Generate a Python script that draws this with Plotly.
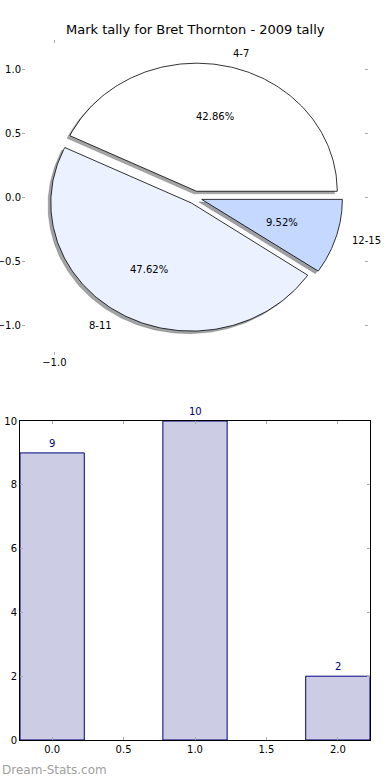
import numpy as np
import plotly.graph_objects as go

# ---- data ----
labels = ["4-7", "8-11", "12-15"]
counts = [9, 10, 2]
bar_positions = [0, 1, 2]
pie_colors = ["#ffffff", "#ebf1ff", "#c5d8ff"]
title = "Mark tally for Bret Thornton - 2009 tally"
watermark = "Dream-Stats.com"

explode = 0.05
shadow_off = -0.02
FONT = "DejaVu Sans"

fig = go.Figure()

total = float(sum(counts))
fracs = [c / total for c in counts]

wedges = []
t1 = 0.0
for lab, f, col in zip(labels, fracs, pie_colors):
    t2 = t1 + 360.0 * f
    thm = np.deg2rad((t1 + t2) / 2.0)
    cx, cy = explode * np.cos(thm), explode * np.sin(thm)
    th = np.deg2rad(np.linspace(t1, t2, 160))
    xs = np.concatenate([[cx], cx + np.cos(th), [cx]])
    ys = np.concatenate([[cy], cy + np.sin(th), [cy]])
    wedges.append((lab, f, col, thm, cx, cy, xs, ys))
    t1 = t2

def darken(hexc):
    h = hexc.lstrip("#")
    r, g, b = (int(h[i:i + 2], 16) for i in (0, 2, 4))
    return "rgba(%d,%d,%d,0.5)" % (0.3 * r, 0.3 * g, 0.3 * b)

# shadows first (beneath)
for lab, f, col, thm, cx, cy, xs, ys in wedges:
    fig.add_trace(go.Scatter(
        x=xs + shadow_off, y=ys + shadow_off, mode="lines", fill="toself",
        fillcolor=darken(col), line=dict(color=darken(col), width=0.5),
        hoverinfo="skip", showlegend=False, xaxis="x", yaxis="y"))

for lab, f, col, thm, cx, cy, xs, ys in wedges:
    fig.add_trace(go.Scatter(
        x=xs, y=ys, mode="lines", fill="toself", fillcolor=col,
        line=dict(color="black", width=0.8), name=lab,
        showlegend=False, xaxis="x", yaxis="y"))

annotations = []
for lab, f, col, thm, cx, cy, xs, ys in wedges:
    xt = cx + 1.1 * np.cos(thm)
    yt = cy + 1.1 * np.sin(thm)
    annotations.append(dict(
        x=xt, y=yt, xref="x", yref="y", text=lab, showarrow=False,
        xanchor="left" if xt > 0 else "right", yanchor="middle",
        font=dict(family=FONT, size=10, color="black")))
    xp = cx + 0.6 * np.cos(thm)
    yp = cy + 0.6 * np.sin(thm)
    annotations.append(dict(
        x=xp, y=yp, xref="x", yref="y", text="%1.2f%%" % (100 * f),
        showarrow=False, xanchor="center", yanchor="middle",
        font=dict(family=FONT, size=10, color="black")))

# bar chart
fig.add_trace(go.Bar(
    x=bar_positions, y=counts, width=0.45,
    marker=dict(color="#ccccE5", line=dict(color="#000080", width=1)),
    showlegend=False, xaxis="x2", yaxis="y2"))

for xp, v in zip(bar_positions, counts):
    annotations.append(dict(
        x=xp, y=v, xref="x2", yref="y2", text=str(v), showarrow=False,
        xanchor="center", yanchor="bottom", yshift=2,
        font=dict(family=FONT, size=10, color="#000080")))

annotations.append(dict(
    x=0.5, y=(780 - 30) / 780, xref="paper", yref="paper", text=title,
    showarrow=False, xanchor="center", yanchor="middle",
    font=dict(family=FONT, size=13, color="black")))
annotations.append(dict(
    x=0, y=(780 - 770) / 780, xref="paper", yref="paper", text=watermark,
    showarrow=False, xanchor="left", yanchor="middle",
    font=dict(family=FONT, size=12, color="#a0a0a0")))

tickfont = dict(family=FONT, size=10, color="black")
R = 1.23

fig.update_layout(
    width=390, height=780, margin=dict(l=0, r=0, t=0, b=0, autoexpand=False),
    paper_bgcolor="white", plot_bgcolor="rgba(0,0,0,0)",
    annotations=annotations,
    xaxis=dict(domain=[22 / 390, 368 / 390], range=[-R, R], anchor="y",
               automargin=False,
               showgrid=False, zeroline=False, showline=False,
               tickvals=[-1.0], tickformat=".1f", ticks="inside",
               ticklen=3, tickcolor="#aaaaaa", mirror="ticks",
               tickfont=tickfont),
    yaxis=dict(domain=[(780 - 355) / 780, (780 - 40) / 780], range=[-R, R],
               anchor="x", automargin=False,
               showgrid=False, zeroline=False, showline=False,
               tickvals=[-1.0, -0.5, 0.0, 0.5, 1.0], tickformat=".1f",
               ticks="inside", ticklen=3, tickcolor="#aaaaaa",
               mirror="ticks", tickfont=tickfont),
    xaxis2=dict(domain=[20 / 390, 370 / 390], range=[-0.225, 2.225],
                anchor="y2", automargin=False,
                showgrid=False, zeroline=False, showline=True,
                linecolor="black", linewidth=1, mirror="ticks",
                tickvals=[0, 0.5, 1.0, 1.5, 2.0], tickformat=".1f",
                ticks="inside", ticklen=3, tickcolor="#aaaaaa",
                tickfont=tickfont),
    yaxis2=dict(domain=[40 / 780, 359 / 780], range=[0, 10], anchor="x2",
                automargin=False,
                showgrid=False, zeroline=False, showline=True,
                linecolor="black", linewidth=1, mirror="ticks",
                tickvals=[0, 2, 4, 6, 8, 10], ticks="inside", ticklen=3,
                tickcolor="#aaaaaa", tickfont=tickfont),
)

fig.write_html(
    "out.html",
    config={"displayModeBar": False},
    post_script="document.body.style.margin='0';"
                "document.body.style.padding='0';"
                "document.body.style.overflow='hidden';")
